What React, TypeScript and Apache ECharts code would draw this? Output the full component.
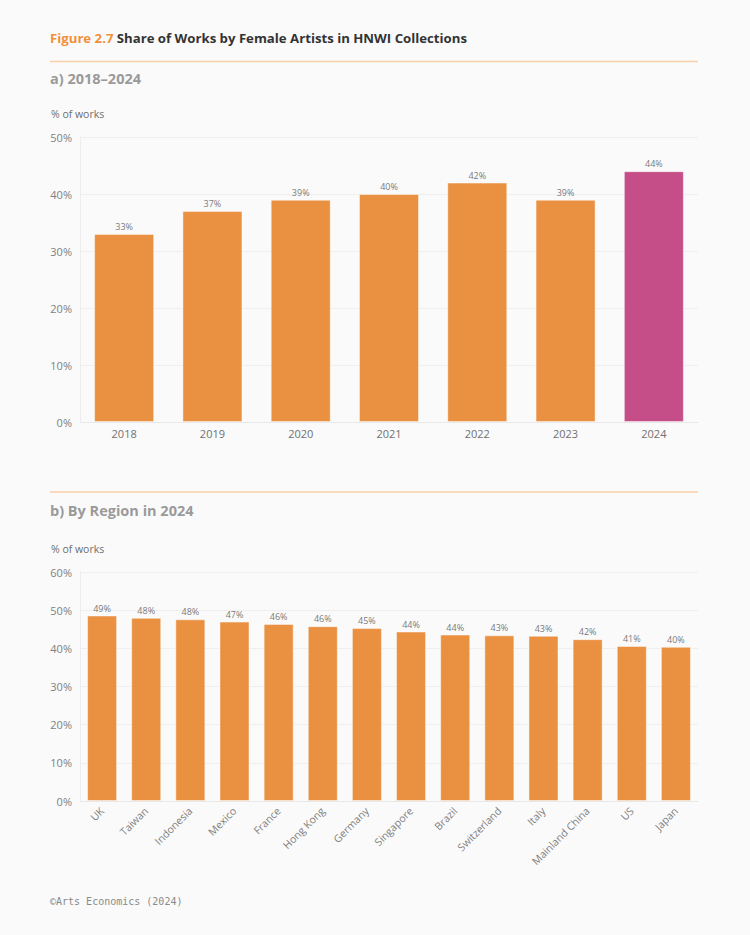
import { useEffect, useRef } from "react";
import * as echarts from "echarts";

// a) yearly share of works by female artists (%)
const years = ["2018", "2019", "2020", "2021", "2022", "2023", "2024"];
const yearShares = [33, 37, 39, 40, 42, 39, 44];
const highlightYear = "2024";
const yearTicks = [0, 10, 20, 30, 40, 50];

// b) share by region in 2024 (%)
const regions = [
  "UK", "Taiwan", "Indonesia", "Mexico", "France", "Hong Kong", "Germany",
  "Singapore", "Brazil", "Switzerland", "Italy", "Mainland China", "US", "Japan",
];
const regionShares = [48.6, 48.0, 47.6, 47.0, 46.4, 45.8, 45.3, 44.4, 43.6, 43.4, 43.3, 42.4, 40.6, 40.4];
const regionTicks = [0, 10, 20, 30, 40, 50, 60];

const ORANGE = "#E99041";
const PINK = "#C54E88";
const FONT = "'Open Sans', sans-serif";
const BG = "#FAFAFA";

export default function App() {
  const ref = useRef<HTMLDivElement>(null);

  useEffect(() => {
    document.body.style.margin = "0";
    document.body.style.background = BG;
    if (!ref.current) return;
    const chart = echarts.init(ref.current, undefined, { renderer: "svg" });

    const yAxisBase = (ticks: number[], gridIndex: number) => ({
      type: "value" as const,
      gridIndex,
      min: ticks[0],
      max: ticks[ticks.length - 1],
      interval: ticks[1] - ticks[0],
      axisLine: { show: true, lineStyle: { color: "#EDEDED", width: 1 } },
      axisTick: { show: false },
      splitLine: { lineStyle: { color: "#EFEFEF", width: 1 } },
      axisLabel: {
        formatter: "{value}%",
        color: "#808080",
        fontSize: 11,
        fontFamily: FONT,
        margin: 8,
      },
    });

    const barLabel = {
      show: true,
      position: "top" as const,
      distance: 3,
      color: "#7A7A7A",
      fontSize: 9,
      fontFamily: FONT,
      formatter: (p: any) => `${Math.round(p.value)}%`,
    };

    chart.setOption({
      animation: false,
      backgroundColor: BG,
      textStyle: { fontFamily: FONT },
      grid: [
        { left: 80, top: 137, width: 618, height: 285, containLabel: false },
        { left: 80, top: 572, width: 618, height: 229, containLabel: false },
      ],
      xAxis: [
        {
          type: "category",
          gridIndex: 0,
          data: years,
          axisLine: { show: true, lineStyle: { color: "#E8E8E8" } },
          axisTick: { show: false },
          axisLabel: { color: "#707070", fontSize: 11, fontFamily: FONT, margin: 6 },
        },
        {
          type: "category",
          gridIndex: 1,
          data: regions,
          axisLine: { show: true, lineStyle: { color: "#E8E8E8" } },
          axisTick: { show: false },
          axisLabel: {
            color: "#808080",
            fontSize: 10.5,
            fontFamily: FONT,
            rotate: 45,
            margin: 8,
            interval: 0,
          },
        },
      ],
      yAxis: [yAxisBase(yearTicks, 0), yAxisBase(regionTicks, 1)],
      series: [
        {
          type: "bar",
          xAxisIndex: 0,
          yAxisIndex: 0,
          barCategoryGap: "32%",
          data: yearShares.map((v, i) => ({
            value: v,
            itemStyle: { color: years[i] === highlightYear ? PINK : ORANGE },
          })),
          itemStyle: { borderColor: "rgba(255,255,255,0.45)", borderWidth: 1 },
          label: barLabel,
        },
        {
          type: "bar",
          xAxisIndex: 1,
          yAxisIndex: 1,
          barCategoryGap: "32%",
          data: regionShares,
          itemStyle: { color: ORANGE, borderColor: "rgba(255,255,255,0.45)", borderWidth: 1 },
          label: barLabel,
        },
      ],
      graphic: [
        {
          type: "text",
          left: 50,
          top: 31,
          style: {
            text: "{a|Figure 2.7} {b|Share of Works by Female Artists in HNWI Collections}",
            rich: {
              a: { fill: "#F0913A", fontSize: 13.2, fontWeight: "bold", fontFamily: FONT },
              b: { fill: "#333333", fontSize: 13.2, fontWeight: "bold", fontFamily: FONT },
            },
          },
        },
        {
          type: "line",
          shape: { x1: 50, y1: 61.5, x2: 698, y2: 61.5 },
          style: { stroke: "#F8CFA8", lineWidth: 1.5 },
        },
        {
          type: "text",
          left: 50,
          top: 71,
          style: { text: "a) 2018–2024", fill: "#9A9A9A", fontSize: 14.5, fontWeight: "bold", fontFamily: FONT },
        },
        {
          type: "text",
          left: 51,
          top: 108,
          style: { text: "% of works", fill: "#6E6E6E", fontSize: 10.5, fontFamily: FONT },
        },
        {
          type: "line",
          shape: { x1: 50, y1: 492, x2: 698, y2: 492 },
          style: { stroke: "#F8CFA8", lineWidth: 1.5 },
        },
        {
          type: "text",
          left: 50,
          top: 503,
          style: { text: "b) By Region in 2024", fill: "#9A9A9A", fontSize: 14.5, fontWeight: "bold", fontFamily: FONT },
        },
        {
          type: "text",
          left: 51,
          top: 543,
          style: { text: "% of works", fill: "#6E6E6E", fontSize: 10.5, fontFamily: FONT },
        },
        {
          type: "text",
          left: 50,
          top: 896,
          style: { text: "©Arts Economics (2024)", fill: "#8A8A8A", fontSize: 10, fontFamily: "'DejaVu Sans Mono', monospace" },
        },
      ],
    });

    return () => chart.dispose();
  }, []);

  return <div ref={ref} style={{ width: 750, height: 935 }} />;
}
